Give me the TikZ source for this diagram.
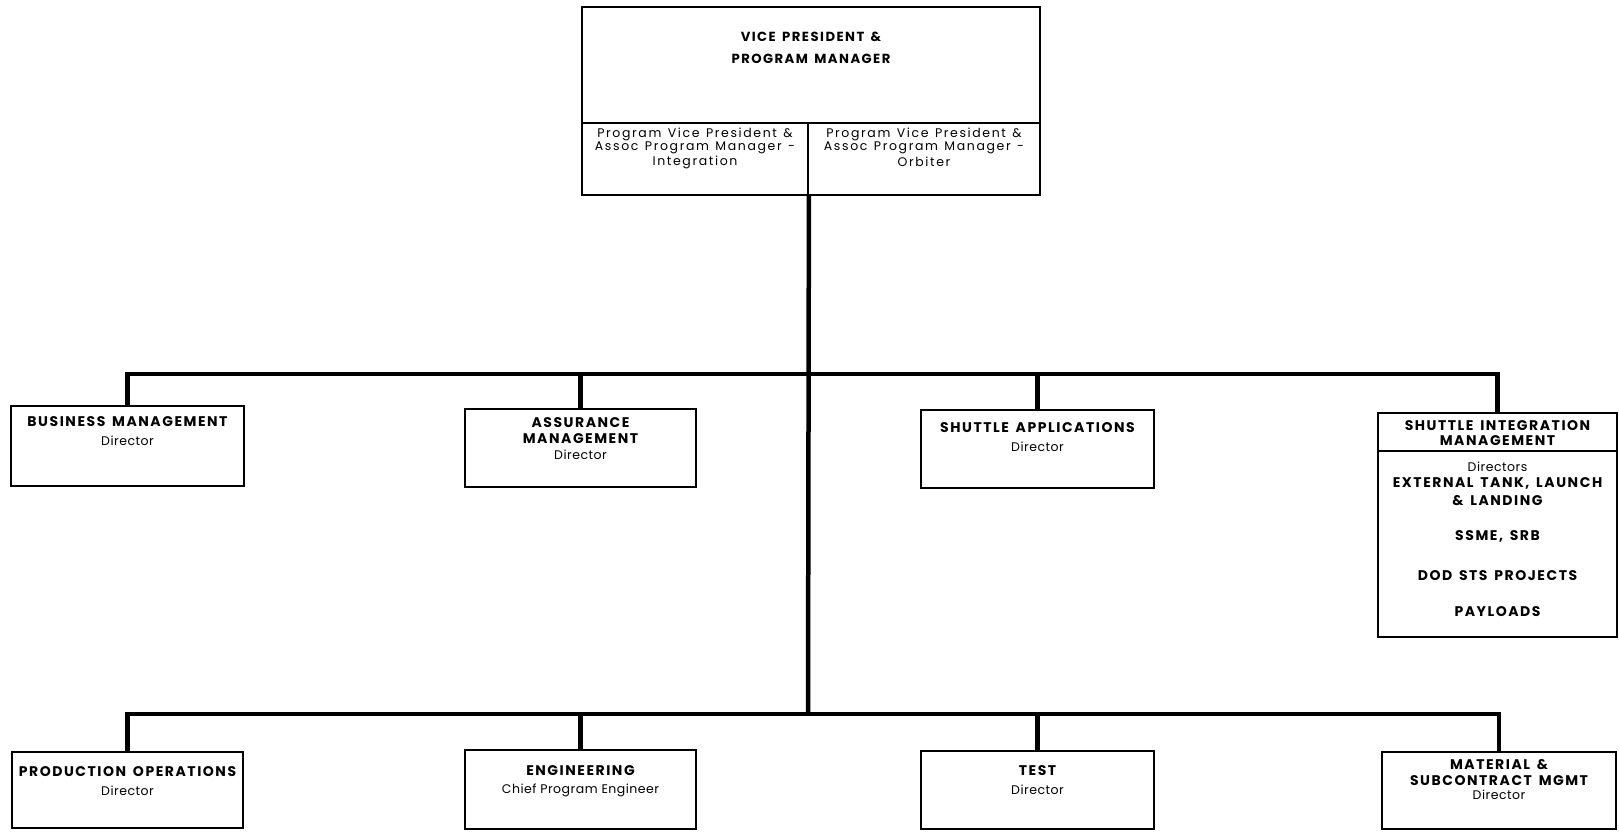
\documentclass[tikz,border=0pt]{standalone}
\usepackage{fontspec}
\setmainfont{Poppins}
\newfontfamily\headfont[LetterSpace=11, WordSpace=1.5]{Poppins}
\newfontfamily\bodyfont[LetterSpace=4]{Poppins}
\newfontfamily\widefont[LetterSpace=13, WordSpace=1.3]{Poppins}
\newcommand\hd{\headfont\bfseries\fontsize{14}{16}\selectfont}
\newcommand\vph{\headfont\bfseries\fontsize{13.2}{16}\selectfont}
\newcommand\bd{\bodyfont\fontsize{12.5}{15}\selectfont}
\newcommand\wdt{\widefont\fontsize{12.5}{15}\selectfont}
\usetikzlibrary{calc}

\tikzset{
  unitbox/.style={draw, line width=1.8pt, inner sep=0pt},
  conn/.style={line width=4.5pt},
  lbl/.style={anchor=center, align=center, inner sep=0pt},
}

\newcommand\boxat[5]{% name, x1, y1, x2, y2
  \node[unitbox, minimum width={#4-#2}, minimum height={#5-#3}]
    (#1) at ({(#2+#4)/2},{(#3+#5)/2}) {};}

\begin{document}
\begin{tikzpicture}[x=1pt, y=-1pt]
\useasboundingbox (0,0) rectangle (1619,831);

% top office and its two associate managers
\boxat{vp}{582}{7}{1040}{123}
\boxat{subL}{582}{123}{808}{195}
\boxat{subR}{808}{123}{1040}{195}
\node[lbl] (vpA) at ($(vp.north)+(0,31)$) {\vph VICE PRESIDENT \&};
\node[lbl] (vpB) at ($(vp.north)+(0,53)$) {\vph PROGRAM MANAGER};
\node[lbl] (slA) at ($(subL.north)+(0,12)$) {\wdt Program Vice President \&};
\node[lbl] (slB) at ($(subL.north)+(0,26)$) {\wdt Assoc Program Manager -};
\node[lbl] (slC) at ($(subL.north)+(0,40)$) {\wdt Integration};
\node[lbl] (srA) at ($(subR.north)+(0,12)$) {\wdt Program Vice President \&};
\node[lbl] (srB) at ($(subR.north)+(0,26)$) {\wdt Assoc Program Manager -};
\node[lbl] (srC) at ($(subR.north)+(0,40)$) {\wdt Orbiter};

% first row of directorates
\boxat{bus}{11}{406}{244}{486}
\boxat{asr}{465}{409}{696}{487}
\boxat{app}{921}{410}{1154}{488}
\boxat{sim}{1378}{413}{1617}{637}
\draw[line width=1.2pt] (sim.west |- 0,451) coordinate (simL) -- (sim.east |- simL) coordinate (simR);

\node[lbl] (busA) at ($(bus.north)+(0,16)$) {\hd BUSINESS MANAGEMENT};
\node[lbl] (busB) at ($(bus.north)+(0,36)$) {\bd Director};
\node[lbl] (asrA) at ($(asr.north)+(0,14)$) {\hd ASSURANCE};
\node[lbl] (asrB) at ($(asr.north)+(0,30)$) {\hd MANAGEMENT};
\node[lbl] (asrC) at ($(asr.north)+(0,47)$) {\bd Director};
\node[lbl] (appA) at ($(app.north)+(0,18)$) {\hd SHUTTLE APPLICATIONS};
\node[lbl] (appB) at ($(app.north)+(0,38)$) {\bd Director};
\node[lbl] (simA) at ($(sim.north)+(0,13)$) {\hd SHUTTLE INTEGRATION};
\node[lbl] (simB) at ($(sim.north)+(0,28)$) {\hd MANAGEMENT};
\node[lbl] (simC) at ($(sim.north)+(0,55)$) {\bd Directors};
\node[lbl] (simD) at ($(sim.north)+(0,71)$) {\hd EXTERNAL TANK, LAUNCH};
\node[lbl] (simE) at ($(sim.north)+(0,88)$) {\hd \& LANDING};
\node[lbl] (simF) at ($(sim.north)+(0,124)$) {\hd SSME, SRB};
\node[lbl] (simG) at ($(sim.north)+(0,163)$) {\hd DOD STS PROJECTS};
\node[lbl] (simH) at ($(sim.north)+(0,199)$) {\hd PAYLOADS};

% second row of directorates
\boxat{prd}{12}{752}{243}{828}
\boxat{eng}{465}{750}{696}{829}
\boxat{tst}{921}{751}{1154}{829}
\boxat{mat}{1382}{752}{1616}{829}

\node[lbl] (prdA) at ($(prd.north)+(0,20)$) {\hd PRODUCTION OPERATIONS};
\node[lbl] (prdB) at ($(prd.north)+(0,40)$) {\bd Director};
\node[lbl] (engA) at ($(eng.north)+(0,21)$) {\hd ENGINEERING};
\node[lbl] (engB) at ($(eng.north)+(0,41)$) {\bd Chief Program Engineer};
\node[lbl] (tstA) at ($(tst.north)+(0,20)$) {\hd TEST};
\node[lbl] (tstB) at ($(tst.north)+(0,40)$) {\bd Director};
\node[lbl] (matA) at ($(mat.north)+(0,13)$) {\hd MATERIAL \&};
\node[lbl] (matB) at ($(mat.north)+(0,29)$) {\hd SUBCONTRACT MGMT};
\node[lbl] (matC) at ($(mat.north)+(0,44)$) {\bd Director};

% reporting lines
\coordinate (upper) at (808,374);
\coordinate (lower) at (808,714);
\draw[conn] (subL.south east) -- ([yshift=2.25pt]lower);
\draw[conn] (bus.north) -- (bus.north |- upper) -- (sim.north |- upper) -- (sim.north);
\draw[conn] (asr.north) -- (asr.north |- upper);
\draw[conn] (app.north) -- (app.north |- upper);
\draw[conn] (prd.north) -- (prd.north |- lower) -- (mat.north |- lower) -- (mat.north);
\draw[conn] (eng.north) -- (eng.north |- lower);
\draw[conn] (tst.north) -- (tst.north |- lower);
\end{tikzpicture}
\end{document}
